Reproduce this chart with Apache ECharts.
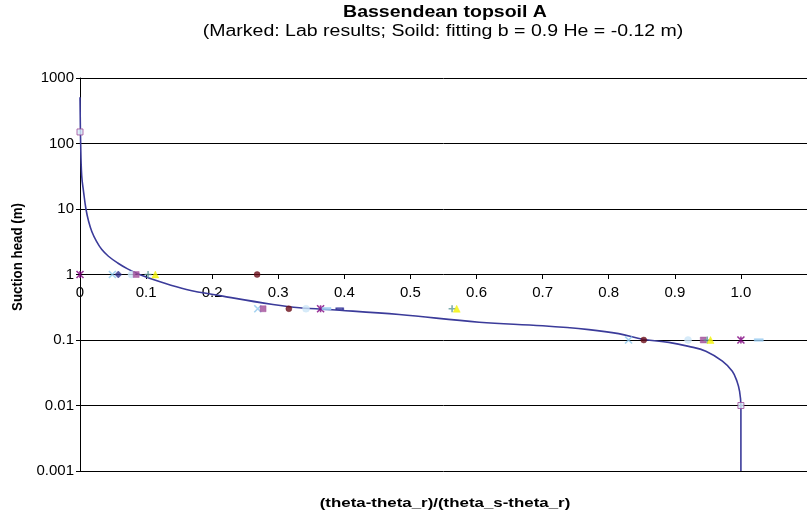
<!DOCTYPE html>
<html>
<head>
<meta charset="utf-8">
<script src="https://cdn.jsdelivr.net/npm/echarts@6/dist/echarts.min.js"></script>
<style>
html,body{margin:0;padding:0;background:#fff;}
#chart{width:807px;height:515px;}
</style>
</head>
<body>
<div id="chart"></div>
<script>
// ---- data ----
const titleText = 'Bassendean topsoil A';
const subtitleText = '(Marked: Lab results; Soild: fitting b = 0.9 He = -0.12 m)';
const xAxisTitle = '(theta-theta_r)/(theta_s-theta_r)';
const yAxisTitle = 'Suction head (m)';

const xTickLabels = ['0', '0.1', '0.2', '0.3', '0.4', '0.5', '0.6', '0.7', '0.8', '0.9', '1.0', ''];
const yTickLabels = ['0.001', '0.01', '0.1', '1', '10', '100', '1000'];

// fitted curve
const curveTheta = [0, 0.001, 0.0026, 0.0055, 0.009, 0.013, 0.018, 0.025, 0.033, 0.043, 0.057, 0.072, 0.090, 0.120, 0.161, 0.216, 0.292, 0.332, 0.393, 0.483, 0.604, 0.700, 0.770, 0.815, 0.853, 0.891, 0.921, 0.947, 0.972, 0.987, 0.994, 0.998, 1.0, 1.0];
const curveHead  = [510, 100, 32, 18, 10, 6.5, 4.5, 3.2, 2.4, 1.9, 1.5, 1.22, 1.0, 0.78, 0.59, 0.467, 0.348, 0.31, 0.285, 0.245, 0.187, 0.165, 0.144, 0.125, 0.102, 0.092, 0.080, 0.0675, 0.0475, 0.0333, 0.0234, 0.0165, 0.01, 0.001];

// lab results: suction heads at which samples were measured
const labHeads = [1, 0.3, 0.1];
const sampleCross    = [0.049, 0.269, 0.830];
const sampleDiamond  = [0.058, null, null];
const sampleLightDot = [0.078, 0.342, 0.920];
const sampleSquare   = [0.085, 0.277, 0.943];
const samplePlus     = [0.103, 0.563, 0.949];
const sampleTriangle = [0.114, 0.570, 0.954];
const sampleCircle   = [0.268, 0.316, 0.853];
const sampleStar     = [0.0, 0.364, 1.0];
const sampleNavyDash = [null, 0.393, null];
const sampleBlueDash = [null, 0.373, 1.027];
// end points (fully dry / saturated)
const endTheta = [0, 1];
const endHead  = [150, 0.01];

// ---- chart ----
function pairs(xs, ys) {
  const out = [];
  for (let i = 0; i < xs.length; i++) {
    if (xs[i] !== null && ys[i] !== null) out.push([xs[i], ys[i]]);
  }
  return out;
}
const FONT = 'Liberation Sans, Arial, sans-serif';
const crossPath = 'path://M0,0L10,10M10,0L0,10';
const plusPath = 'path://M5,0L5,10M0,5L10,5';
const starPath = 'path://M0,0L10,10M10,0L0,10M5,0L5,10';

function markerSeries(name, xs, symbol, size, color, stroked) {
  return {
    name: name,
    type: 'scatter',
    data: pairs(xs, labHeads),
    symbol: symbol,
    symbolSize: size,
    z: 5,
    itemStyle: stroked
      ? { color: 'none', borderColor: color, borderWidth: 1.6 }
      : { color: color, borderColor: color, borderWidth: 0.5 },
    emphasis: { disabled: true },
    silent: true
  };
}

const chart = echarts.init(document.getElementById('chart'), null, { renderer: 'canvas' });
const plotLeft = 80, plotTop = 78, plotBottom = 44;
const xAxisOffset = -196;
const stretch = 1.22;

chart.setOption({
  animation: false,
  backgroundColor: '#ffffff',
  grid: { left: plotLeft, right: 0, top: plotTop, bottom: plotBottom, containLabel: false },
  graphic: [
    { type: 'text', x: 445, y: 13, scaleX: stretch, style: { text: titleText, font: 'bold 16px ' + FONT, fill: '#000', align: 'center', verticalAlign: 'middle' } },
    { type: 'text', x: 443, y: 32, scaleX: stretch, style: { text: subtitleText, font: '16px ' + FONT, fill: '#000', align: 'center', verticalAlign: 'middle' } },
    { type: 'text', x: 445, y: 503, scaleX: 1.27, style: { text: xAxisTitle, font: 'bold 13.3px ' + FONT, fill: '#000', align: 'center', verticalAlign: 'middle' } },
    { type: 'text', x: 18, y: 257, rotation: Math.PI / 2, scaleY: 1.15, style: { text: yAxisTitle, font: 'bold 13.3px ' + FONT, fill: '#000', align: 'center', verticalAlign: 'middle' } }
  ],
  xAxis: {
    type: 'value',
    min: 0, max: 1.1, interval: 0.1,
    position: 'bottom',
    offset: xAxisOffset,
    axisLine: { show: false, onZero: false },
    axisTick: { show: true, length: 4, lineStyle: { color: '#000' } },
    splitLine: { show: false },
    axisLabel: {
      margin: 10,
      fontSize: 15, fontFamily: FONT, color: '#000',
      showMaxLabel: false,
      formatter: function (v) { return xTickLabels[Math.round(v * 10)]; }
    }
  },
  yAxis: {
    type: 'log', logBase: 10,
    min: 0.001, max: 1000,
    axisLine: { show: true, lineStyle: { color: '#000', width: 1 } },
    axisTick: { show: true, length: 4, lineStyle: { color: '#000' } },
    splitLine: { show: true, lineStyle: { color: '#000', width: 1 } },
    minorTick: { show: false },
    axisLabel: {
      margin: 6,
      fontSize: 15, fontFamily: FONT, color: '#000',
      formatter: function (v) { return yTickLabels[Math.round(Math.log10(v)) + 3]; }
    }
  },
  series: [
    {
      name: 'fitting',
      type: 'line',
      data: pairs(curveTheta, curveHead),
      smooth: 0.4,
      showSymbol: false,
      z: 3,
      lineStyle: { color: '#3B3B9A', width: 1.6 },
      silent: true
    },
    markerSeries('s1', sampleCross, crossPath, 7, '#8EC8EE', true),
    markerSeries('s2', sampleDiamond, 'diamond', 7, '#2E2E8C', false),
    markerSeries('s3', sampleLightDot, 'circle', 7, '#CDE6F7', false),
    markerSeries('s4', sampleSquare, 'rect', 6, '#A04C98', false),
    markerSeries('s5', samplePlus, plusPath, 7, '#5E9898', true),
    markerSeries('s6', sampleTriangle, 'triangle', 7, '#F2F200', false),
    markerSeries('s7', sampleCircle, 'circle', 6, '#6B0F1A', false),
    markerSeries('s8', sampleStar, starPath, 7, '#800080', true),
    markerSeries('s9', sampleNavyDash, 'rect', [7, 2], '#333399', false),
    markerSeries('s10', sampleBlueDash, 'rect', [9, 2.5], '#99CCF0', false),
    {
      name: 'ends',
      type: 'scatter',
      data: pairs(endTheta, endHead),
      symbol: 'rect',
      symbolSize: 6,
      z: 6,
      itemStyle: { color: '#D6ECF8', borderColor: '#A04C98', borderWidth: 1 },
      silent: true
    }
  ]
});
</script>
</body>
</html>
